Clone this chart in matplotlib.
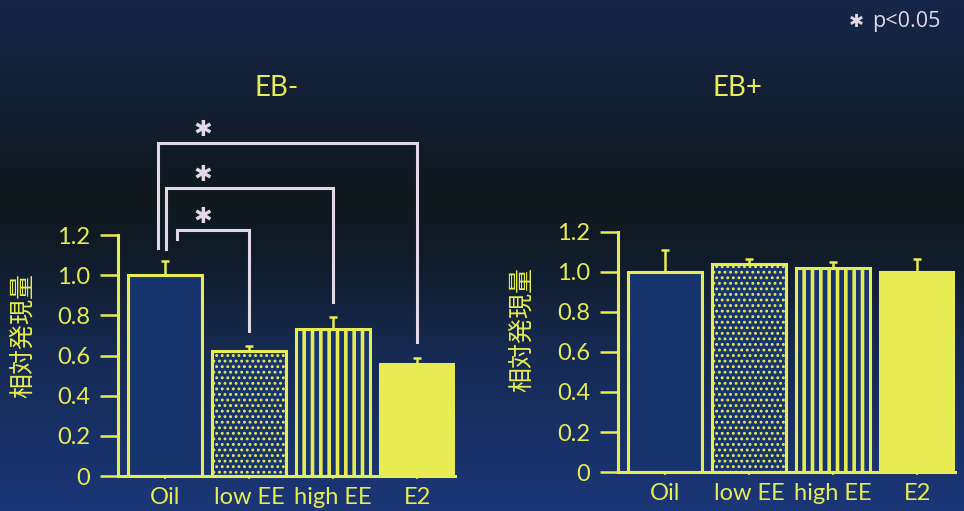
import numpy as np
import matplotlib
matplotlib.use("Agg")
import matplotlib.pyplot as plt
from matplotlib.colors import LinearSegmentedColormap

# ---- data -------------------------------------------------------------
groups = ["Oil", "low EE", "high EE", "E2"]
eb_minus_mean = [1.00, 0.62, 0.73, 0.56]
eb_minus_err = [0.07, 0.025, 0.06, 0.03]
eb_plus_mean = [1.00, 1.04, 1.02, 1.00]
eb_plus_err = [0.11, 0.025, 0.03, 0.065]
panel_titles = ["EB-", "EB+"]
y_ticks = [0, 0.2, 0.4, 0.6, 0.8, 1.0, 1.2]
y_ticklabels = ["0", "0.2", "0.4", "0.6", "0.8", "1.0", "1.2"]
y_label = "相対発現量"
# significance comparisons in the EB- panel: (from group, to group)
sig_pairs = [(0, 1), (0, 2), (0, 3)]
sig_levels = [1.225, 1.435, 1.66]
sig_left_offsets = [0.14, 0.01, -0.085]
sig_left_ends = [1.18, 1.13, 1.135]
sig_mark = "✱"
sig_note = "p<0.05"

# ---- style --------------------------------------------------------------
YEL = "#e6ec52"
NAVY = "#18346f"
WHITE = "#e2d8e6"
plt.rcParams["font.family"] = ["Lato", "Noto Sans CJK JP", "DejaVu Sans"]

fig = plt.figure(figsize=(9.64, 5.11), dpi=100)

# background gradient
bg = fig.add_axes([0, 0, 1, 1], zorder=-10)
bg.axis("off")
cmap = LinearSegmentedColormap.from_list(
    "bg",
    [(0.0, (0.085, 0.150, 0.29)),
     (0.22, (0.072, 0.118, 0.19)),
     (0.38, (0.060, 0.095, 0.110)),
     (0.50, (0.065, 0.11, 0.16)),
     (0.70, (0.085, 0.165, 0.33)),
     (1.0, (0.105, 0.215, 0.47))])
grad = np.linspace(0, 1, 256).reshape(-1, 1)
bg.imshow(grad, aspect="auto", cmap=cmap, extent=[0, 1, 0, 1], origin="upper")
bg.set_xlim(0, 1)
bg.set_ylim(0, 1)

bar_styles = [
    dict(color=NAVY, hatch=None, hlw=1.0),
    dict(color=NAVY, hatch="...", hlw=1.3),
    dict(color=NAVY, hatch="||", hlw=2.6),
    dict(color=YEL, hatch=None, hlw=1.0),
]


def draw_panel(ax, means, errs):
    x = np.arange(len(groups))
    for i in range(len(groups)):
        st = bar_styles[i]
        with plt.rc_context({"hatch.linewidth": st["hlw"]}):
            ax.bar(x[i], means[i], width=0.88, color=st["color"], edgecolor=YEL,
                   linewidth=2.2, hatch=st["hatch"], zorder=2)
    ax.errorbar(x, means, yerr=[np.zeros(len(errs)), errs], fmt="none",
                ecolor=YEL, elinewidth=1.8, capsize=3, capthick=1.8, zorder=3)
    ax.set_xlim(-0.565, 3.45)
    ax.set_ylim(0, 1.2)
    ax.set_facecolor("none")
    for s in ["top", "right"]:
        ax.spines[s].set_visible(False)
    for s in ["left", "bottom"]:
        ax.spines[s].set_color(YEL)
        ax.spines[s].set_linewidth(2.2)
    ax.set_yticks(y_ticks)
    ax.set_yticklabels(y_ticklabels)
    ax.set_xticks(x)
    ax.set_xticklabels(groups)
    ax.tick_params(axis="y", length=13, width=1.8, color=YEL, labelcolor=YEL,
                   labelsize=17, pad=7)
    ax.tick_params(axis="x", length=2, width=1.2, color=YEL, labelcolor=YEL,
                   labelsize=17, pad=6)


ax1 = fig.add_axes([118 / 964, 35 / 511, 337 / 964, 241 / 511])
draw_panel(ax1, eb_minus_mean, eb_minus_err)
ax2 = fig.add_axes([618 / 964, 39 / 511, 337 / 964, 240 / 511])
draw_panel(ax2, eb_plus_mean, eb_plus_err)

for xc, title in zip([277, 737], panel_titles):
    fig.text(xc / 964, 1 - 88 / 511, title, ha="center", va="center",
             color=YEL, fontsize=20)

fig.text(22 / 964, 1 - 335 / 511, y_label, rotation=90, ha="center", va="center",
         color=YEL, fontsize=18)
fig.text(521 / 964, 1 - 330 / 511, y_label, rotation=90, ha="center", va="center",
         color=YEL, fontsize=18)

# significance brackets (EB- panel)
for (a, b), lvl, off, lend in zip(sig_pairs, sig_levels, sig_left_offsets, sig_left_ends):
    right_end = eb_minus_mean[b] + eb_minus_err[b] + 0.075
    ax1.plot([a + off, a + off, b, b], [lend, lvl, lvl, right_end], color=WHITE,
             lw=2.2, solid_joinstyle="miter", clip_on=False, zorder=4)
    ax1.text(a + 0.45, lvl + 0.065, sig_mark, ha="center", va="center", color=WHITE,
             fontsize=16, family="DejaVu Sans", clip_on=False)

fig.text(856 / 964, 1 - 22 / 511, sig_mark, ha="center", va="center", color=WHITE,
         fontsize=13, family="DejaVu Sans")
fig.text(940 / 964, 1 - 22 / 511, sig_note, ha="right", va="center", color=WHITE,
         fontsize=15.5, family=["Open Sans", "DejaVu Sans"])

fig.savefig("out.png", dpi=100)
